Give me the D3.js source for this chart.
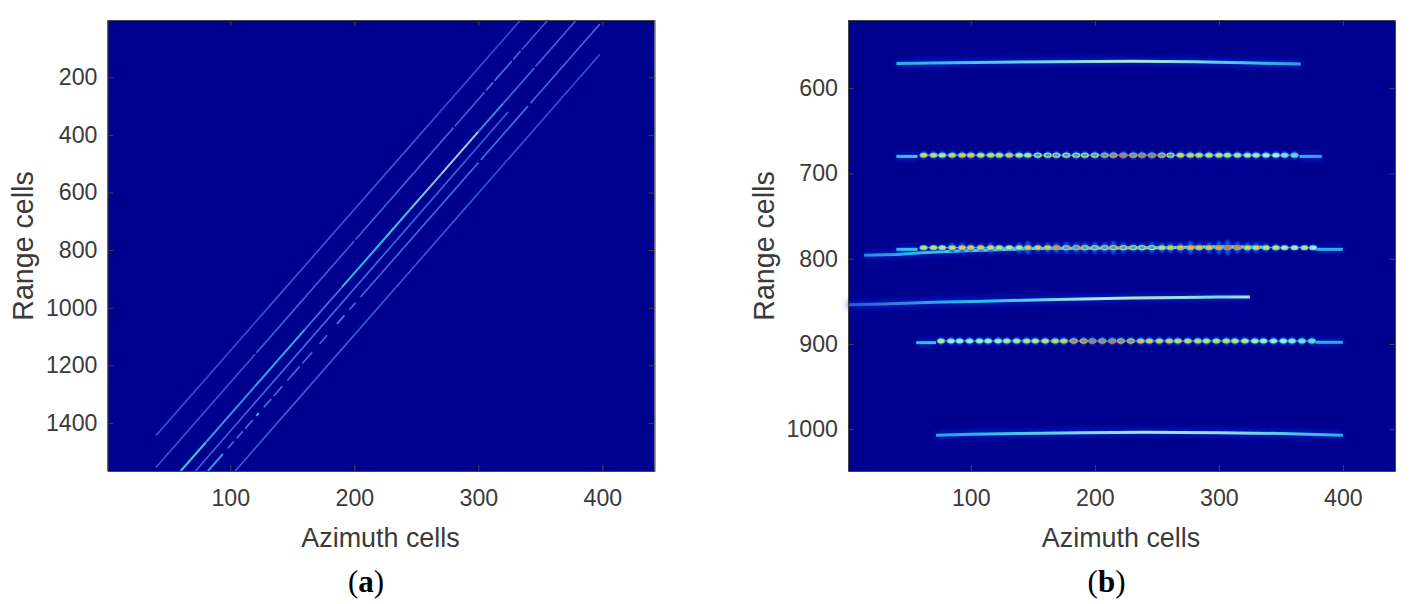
<!DOCTYPE html>
<html>
<head>
<meta charset="utf-8">
<script src="https://cdn.jsdelivr.net/npm/d3@7"></script>
<style>
  html, body { margin: 0; background: #fff; }
  text { font-family: "Liberation Sans", Arial, sans-serif; fill: #3a3a3a; }
</style>
</head>
<body>
<svg id="svg" width="1420" height="604"></svg>
<script>
// Tick labels
var azimuthTicks = [100, 200, 300, 400];
var rangeTicksA = [200, 400, 600, 800, 1000, 1200, 1400];
var rangeTicksB = [600, 700, 800, 900, 1000];

// Panel (a): each track is [azimuth, range] at both ends
var tracksA = [
    [[40, 1444], [334, 1]],
    [[40, 1555], [356, 1]],
    [[60, 1567], [379, 1]],
    [[72, 1567], [324, 320]],
    [[82, 1567], [398, 15]],
    [[104, 1567], [398, 120]]
];
// Lit azimuth stretches of each track: [from, to, brightness]
var pieces1 = [[40, 130, .2], [130, 260, .22], [260, 334, .2]];
var pieces2 = [[40, 120, .22], [121, 200, .24], [201, 280, .25], [281, 305, .25], [306, 312, .26], [313, 327, .27], [328, 334, .25], [335, 356, .23]];
var pieces3 = [[60, 80, .4], [80, 120, .32], [120, 160, .36], [160, 190, .29], [190, 225, .38], [225, 245, .4], [245, 270, .44], [270, 300, .47], [300, 320, .31], [320, 345, .26], [346, 379, .24]];
var pieces4 = [[72, 140, .25], [140, 230, .26], [230, 290, .24], [290, 324, .22]];
var pieces5 = [[82, 94, .32], [98, 103, .26], [105, 110, .26], [112, 118, .26], [121, 123, .36], [127, 133, .26], [135, 142, .26], [146, 156, .26], [158, 166, .26], [172, 178, .26], [186, 192, .3], [196, 201, .26], [205, 300, .26], [302, 340, .27], [342, 398, .26]];
var pieces6 = [[104, 200, .23], [200, 300, .22], [300, 398, .2]];
var piecesA = [pieces1, pieces2, pieces3, pieces4, pieces5, pieces6];

// Panel (b): solid ridges as [azimuth, range, brightness]
var ridge1 = [[40, 571, .36], [70, 570.5, .38], [120, 569.5, .42], [170, 569, .46], [230, 568.5, .5], [280, 569, .46], [320, 570, .4], [345, 571, .36], [366, 571.5, .34]];
var ridge2L = [[40, 680, .38], [57, 680, .4]];
var ridge2R = [[365, 680, .37], [383, 680, .35]];
var ridge3L = [[40, 789, .38], [57, 789, .4]];
var ridge3R = [[378, 789, .37], [400, 789, .35]];
var ridge4 = [[14, 796, .3], [40, 795, .35], [60, 793, .38], [90, 791, .42], [150, 788, .46], [250, 787, .5], [300, 786, .58], [339, 786.5, .56]];
var ridge5 = [[1, 854, .2], [30, 853, .27], [70, 851, .34], [110, 850, .38], [160, 848, .44], [200, 847, .5], [230, 846, .54], [270, 845.5, .48], [300, 845, .46], [325, 845, .5]];
var ridge6L = [[56, 898.5, .38], [72, 898.5, .4]];
var ridge6R = [[378, 898, .37], [400, 898, .35]];
var ridge7 = [[72, 1007, .34], [100, 1006, .37], [140, 1005, .41], [190, 1004, .46], [240, 1003.5, .5], [300, 1004, .48], [350, 1005, .42], [400, 1007, .36]];
var ridgesB = [ridge1, ridge2L, ridge2R, ridge3L, ridge3R, ridge4, ridge5, ridge6L, ridge6R, ridge7];

// Panel (b): focused targets along the dotted ridges
var dotAz2 = [62, 70, 77, 85, 93, 100, 108, 116, 123, 131, 139, 146, 154, 162, 169, 177, 185, 192, 200, 208, 215, 223, 231, 238, 246, 254, 261, 269, 277, 284, 292, 300, 307, 315, 323, 330, 338, 346, 353, 361];
var dotI2 = [.68, .66, .55, .7, .74, .72, .62, .66, .66, .74, .58, .6, .56, .6, .7, .68, .68, .62, .7, .8, .8, .84, .8, .84, .84, .78, .7, .66, .7, .68, .62, .62, .6, .58, .56, .54, .5, .5, .46, .44];
var ringAz2 = [150, 262];
var dotRange2 = 678.5;
var dotAz3 = [62, 70, 77, 85, 93, 100, 108, 116, 123, 131, 139, 146, 154, 162, 169, 177, 185, 192, 200, 208, 215, 223, 231, 238, 246, 254, 261, 269, 277, 284, 292, 300, 307, 315, 323, 330, 338, 346, 353, 361, 369, 376];
var dotI3 = [.62, .64, .58, .66, .72, .7, .7, .66, .62, .58, .58, .72, .7, .72, .8, .76, .78, .74, .72, .76, .74, .7, .66, .62, .62, .62, .7, .74, .76, .74, .72, .78, .84, .82, .66, .66, .6, .6, .56, .54, .58, .52];
var spike3 = [3, 3, 3, 5, 5, 4, 4, 5, 3, 3, 5, 7, 4, 5, 5, 6, 5, 5, 6, 5, 7, 5, 4, 4, 6, 5, 5, 5, 7, 4, 5, 7, 8, 6, 5, 5, 4, 4, 3, 3, 3, 3];
var ringAz3 = [170, 250];
var dotRange3 = 787;
var dotAz6 = [76, 84, 91, 99, 107, 114, 122, 129, 137, 145, 152, 160, 168, 175, 183, 191, 198, 206, 214, 221, 229, 237, 244, 252, 260, 267, 275, 283, 290, 298, 306, 313, 321, 329, 336, 344, 352, 359, 367, 375];
var dotI6 = [.58, .5, .5, .5, .52, .52, .52, .56, .58, .6, .6, .62, .68, .72, .8, .8, .84, .82, .84, .8, .78, .74, .72, .7, .72, .66, .66, .66, .62, .66, .64, .62, .6, .56, .54, .52, .5, .48, .46, .44];
var ringAz6 = [180, 235];
var dotRange6 = 896.5;

var svg = d3.select("svg");

// Jet style colour map, washed a little like the printed figure
var jet = d3.scaleLinear()
    .domain([0, .12, .25, .38, .5, .62, .75, .88, 1])
    .range(["#00008f", "#1530c0", "#3f62d8", "#28bcec", "#b0e4e0", "#c8e060", "#f0c040", "#e04a30", "#900000"]);

var defs = svg.append("defs");
function blur(id, amount) {
    defs.append("filter").attr("id", id)
        .attr("filterUnits", "userSpaceOnUse")
        .attr("x", 0).attr("y", 0).attr("width", 1420).attr("height", 604)
        .append("feGaussianBlur").attr("stdDeviation", amount);
}
blur("soft", 0.55);
blur("glow", 1.1);
blur("wide", 3);

// Draws the frame, ticks and labels of one panel and returns its scales
function drawPanel(left, rangeDomain, rangeTicks, letter, yLabelX) {
    var width = 547, top = 20, bottom = 471;
    var x = d3.scaleLinear().domain([1, 442]).range([left, left + width]);
    var y = d3.scaleLinear().domain(rangeDomain).range([top, bottom]);

    svg.append("rect")
        .attr("x", left).attr("y", top)
        .attr("width", width).attr("height", bottom - top)
        .attr("fill", "#00008f");

    var marks = svg.append("g");

    var axes = svg.append("g");
    axes.append("g").attr("transform", "translate(0," + bottom + ")")
        .call(d3.axisBottom(x).tickValues(azimuthTicks).tickFormat(d3.format("d")).tickSizeInner(-6).tickSizeOuter(0).tickPadding(19));
    axes.append("g").attr("transform", "translate(0," + top + ")")
        .call(d3.axisTop(x).tickValues(azimuthTicks).tickSizeInner(-6).tickSizeOuter(0).tickFormat(""));
    axes.append("g").attr("transform", "translate(" + left + ",0)")
        .call(d3.axisLeft(y).tickValues(rangeTicks).tickFormat(d3.format("d")).tickSizeInner(-6).tickSizeOuter(0).tickPadding(10));
    axes.append("g").attr("transform", "translate(" + (left + width) + ",0)")
        .call(d3.axisRight(y).tickValues(rangeTicks).tickSizeInner(-6).tickSizeOuter(0).tickFormat(""));
    axes.selectAll("path, line").attr("stroke", "#444").attr("stroke-width", 1);
    axes.selectAll("text").attr("font-size", 23.2).attr("fill", "#3a3a3a");

    svg.append("text").attr("x", left + width / 2 - 0.5).attr("y", 547)
        .attr("text-anchor", "middle").attr("font-size", 26.9)
        .text("Azimuth cells");
    svg.append("text")
        .attr("transform", "translate(" + yLabelX + ",246) rotate(-90)")
        .attr("text-anchor", "middle").attr("font-size", 28.6)
        .text("Range cells");

    var caption = svg.append("text").attr("x", left + width / 2 - 15).attr("y", 592)
        .attr("text-anchor", "middle").attr("font-size", 31)
        .style("font-family", "'Liberation Serif', 'Times New Roman', serif")
        .style("fill", "#000");
    caption.append("tspan").text("(");
    caption.append("tspan").attr("font-weight", "bold").text(letter);
    caption.append("tspan").text(")");

    return {x: x, y: y, marks: marks};
}

var panelA = drawPanel(107.5, [1, 1567], rangeTicksA, "a", 33);
var panelB = drawPanel(848, [520, 1049], rangeTicksB, "b", 774);

// Panel (a) tracks
tracksA.forEach(function (track, i) {
    var rangeAt = d3.scaleLinear()
        .domain([track[0][0], track[1][0]])
        .range([track[0][1], track[1][1]]);
    var g = panelA.marks.append("g").attr("filter", "url(#soft)");
    g.selectAll("line").data(piecesA[i]).join("line")
        .attr("x1", function (d) { return panelA.x(d[0]); })
        .attr("y1", function (d) { return panelA.y(rangeAt(d[0])); })
        .attr("x2", function (d) { return panelA.x(d[1]); })
        .attr("y2", function (d) { return panelA.y(rangeAt(d[1])); })
        .attr("stroke", function (d) { return jet(d[2]); })
        .attr("stroke-width", function (d) { return d[2] > .3 ? 2 : 1.7; });
});

// Panel (b) halo under the ridges and dots
var halo = panelB.marks.append("g").attr("filter", "url(#wide)");
var ridgeLine = d3.line()
    .x(function (d) { return panelB.x(d[0]); })
    .y(function (d) { return panelB.y(d[1]); });
ridgesB.forEach(function (ridge) {
    halo.append("path").attr("d", ridgeLine(ridge))
        .attr("fill", "none").attr("stroke", "#0a28c8").attr("stroke-width", 5);
});

// Solid ridges, coloured by a gradient running along azimuth
var ridgeLayer = panelB.marks.append("g").attr("filter", "url(#soft)");
ridgesB.forEach(function (ridge, i) {
    var first = ridge[0][0], last = ridge[ridge.length - 1][0];
    var gradient = defs.append("linearGradient").attr("id", "ridge" + i)
        .attr("gradientUnits", "userSpaceOnUse")
        .attr("x1", panelB.x(first)).attr("x2", panelB.x(last))
        .attr("y1", 0).attr("y2", 0);
    gradient.selectAll("stop").data(ridge).join("stop")
        .attr("offset", function (d) { return (d[0] - first) / (last - first); })
        .attr("stop-color", function (d) { return jet(d[2]); });
    ridgeLayer.append("path").attr("d", ridgeLine(ridge))
        .attr("fill", "none")
        .attr("stroke", "url(#ridge" + i + ")")
        .attr("stroke-width", 3);
});

// Dots: a cool blur, then a warm core; the strongest ones open into rings
function drawDots(azimuths, levels, range, ringSpan, spikes) {
    var rows = d3.zip(azimuths, levels);
    var under = panelB.marks.append("g").attr("filter", "url(#glow)");
    under.selectAll("ellipse").data(azimuths).join("ellipse")
        .attr("cx", function (d) { return panelB.x(d); })
        .attr("cy", panelB.y(range))
        .attr("rx", 2.8)
        .attr("ry", function (d, i) { return spikes ? spikes[i] : 4; })
        .attr("fill", "#1058e4");
    var g = panelB.marks.append("g").attr("filter", "url(#soft)");
    g.append("line")
        .attr("x1", panelB.x(azimuths[0])).attr("x2", panelB.x(azimuths[azimuths.length - 1]))
        .attr("y1", panelB.y(range)).attr("y2", panelB.y(range))
        .attr("stroke", "#6cc4dc").attr("stroke-width", 1);
    g.selectAll(".outer").data(rows).join("ellipse")
        .attr("class", "outer")
        .attr("cx", function (d) { return panelB.x(d[0]); })
        .attr("cy", panelB.y(range))
        .attr("rx", 4.2).attr("ry", 2.7)
        .attr("fill", "#30b4e4");
    g.selectAll(".inner").data(rows).join("ellipse")
        .attr("class", "inner")
        .attr("cx", function (d) { return panelB.x(d[0]); })
        .attr("cy", panelB.y(range))
        .attr("rx", 3.2).attr("ry", 1.9)
        .attr("fill", function (d) {
            return d[0] >= ringSpan[0] && d[0] <= ringSpan[1] ? "#3aa0d4" : jet(d[1]);
        })
        .attr("stroke", function (d) {
            return d[0] >= ringSpan[0] && d[0] <= ringSpan[1] ? jet(d[1]) : "none";
        })
        .attr("stroke-width", 1.1);
}
drawDots(dotAz2, dotI2, dotRange2, ringAz2);
drawDots(dotAz3, dotI3, dotRange3, ringAz3, spike3);
drawDots(dotAz6, dotI6, dotRange6, ringAz6);
</script>
</body>
</html>
